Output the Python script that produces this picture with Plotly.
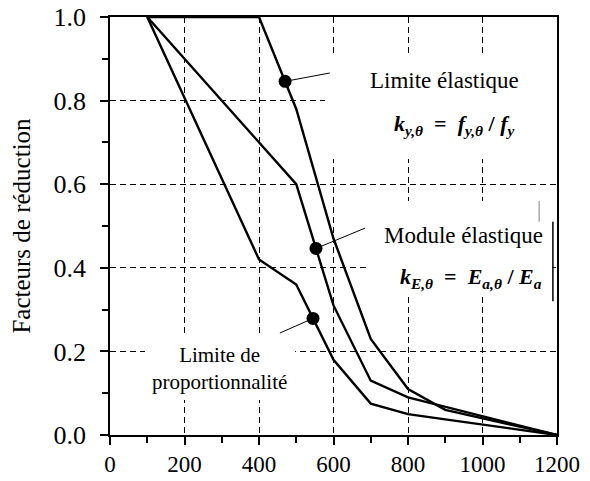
import numpy as np
import plotly.graph_objects as go

# Température de l'acier (°C) et facteurs de réduction
temperature = [100, 200, 300, 400, 500, 600, 700, 800, 900, 1000, 1100, 1200]
k_y = [1.0, 1.0, 1.0, 1.0, 0.78, 0.47, 0.23, 0.11, 0.06, 0.04, 0.02, 0.0]
k_E = [1.0, 0.9, 0.8, 0.7, 0.6, 0.31, 0.13, 0.09, 0.0675, 0.045, 0.0225, 0.0]
k_p = [1.0, 0.807, 0.613, 0.42, 0.36, 0.18, 0.075, 0.05, 0.0375, 0.025, 0.0125, 0.0]

# Points repérés sur chaque courbe et extrémité des traits de rappel
marker_T = [470, 553, 545]
leader_end = [(590, 0.866), (685, 0.495), (456, 0.244)]
curves = [k_y, k_E, k_p]

SERIF = "Liberation Serif, Times New Roman, serif"

fig = go.Figure()

for k in curves:
    fig.add_trace(go.Scatter(x=temperature, y=k, mode="lines",
                             line=dict(color="black", width=2.4),
                             showlegend=False, hoverinfo="skip"))

for T, k, (ex, ey) in zip(marker_T, curves, leader_end):
    yv = float(np.interp(T, temperature, k))
    fig.add_trace(go.Scatter(x=[T, ex], y=[yv, ey], mode="lines",
                             line=dict(color="black", width=1),
                             showlegend=False, hoverinfo="skip"))
    fig.add_trace(go.Scatter(x=[T], y=[yv], mode="markers",
                             marker=dict(color="black", size=13, symbol="circle"),
                             showlegend=False, hoverinfo="skip"))

# Fonds blancs des étiquettes (entre la grille et les courbes)
boxes = [(577, 1198, 0.66, 0.91), (698, 1188, 0.33, 0.56), (94, 497, 0.084, 0.24)]
for x0, x1, y0, y1 in boxes:
    fig.add_shape(type="rect", x0=x0, x1=x1, y0=y0, y1=y1, layer="between",
                  fillcolor="white", line=dict(width=0))

# Filets verticaux bordant l'étiquette du module
fig.add_shape(type="line", x0=1189, x1=1189, y0=0.32, y1=0.51,
              line=dict(color="black", width=1.5))
fig.add_shape(type="line", x0=1152, x1=1152, y0=0.51, y1=0.56,
              line=dict(color="gray", width=1))

labels = [
    (899, 0.849, "Limite élastique", 23),
    (926, 0.742, "<b><i>k</i><sub><i>y,θ</i></sub>  =  <i>f</i><sub><i>y,θ</i></sub> / <i>f</i><sub><i>y</i></sub></b>", 22),
    (948, 0.478, "Module élastique", 23),
    (968, 0.376, "<b><i>k</i><sub><i>E,θ</i></sub>  =  <i>E</i><sub><i>a,θ</i></sub> / <i>E</i><sub><i>a</i></sub></b>", 22),
    (295, 0.16, "Limite de<br>proportionnalité", 21),
]
for x, y, t, s in labels:
    fig.add_annotation(x=x, y=y, text=t, showarrow=False,
                       font=dict(family=SERIF, size=s, color="black"))

axis_common = dict(
    showline=True, linecolor="black", linewidth=1.5, mirror=True,
    ticks="outside", ticklen=8, tickwidth=1.5, tickcolor="black",
    showgrid=True, gridcolor="black", gridwidth=1, griddash="6px,4px",
    zeroline=False, automargin=False,
)

fig.update_xaxes(range=[0, 1200], dtick=200, tick0=0,
                 tickfont=dict(family=SERIF, size=23, color="black"),
                 minor=dict(dtick=100, ticks="outside", ticklen=6,
                            tickcolor="black", showgrid=False),
                 **axis_common)
fig.update_yaxes(range=[0, 1.0], dtick=0.2, tick0=0, tickformat=".1f",
                 tickfont=dict(family=SERIF, size=26, color="black"),
                 ticklabelstandoff=9,
                 minor=dict(dtick=0.1, ticks="outside", ticklen=6,
                            tickcolor="black", showgrid=False),
                 title=dict(text="Facteurs de réduction",
                            font=dict(family=SERIF, size=25, color="black"),
                            standoff=16),
                 **axis_common)

fig.update_layout(
    width=590, height=481,
    margin=dict(l=110, r=33, t=17, b=46),
    paper_bgcolor="white", plot_bgcolor="white",
)

fig.write_html("out.html")
